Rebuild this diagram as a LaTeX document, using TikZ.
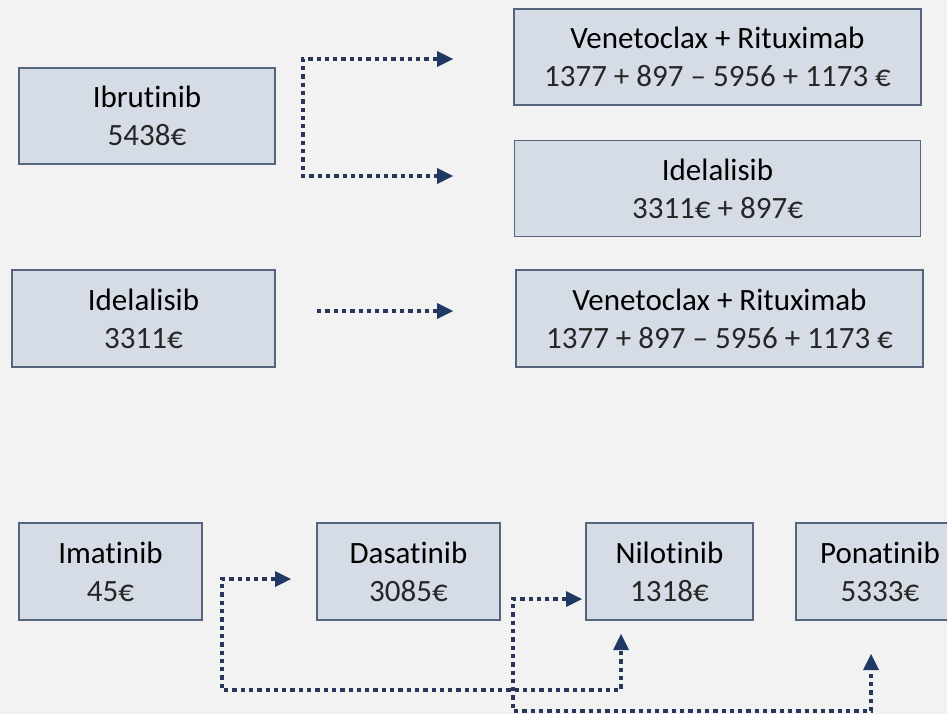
\documentclass[tikz,border=0pt]{standalone}
\usepackage{fontspec}
\setmainfont{Carlito}[RawFeature=-liga]
\usetikzlibrary{positioning}
\usetikzlibrary{arrows.meta}

\definecolor{pagegray}{HTML}{F2F2F2}
\definecolor{boxfill}{HTML}{D6DCE5}
\definecolor{boxline}{HTML}{56657D}
\definecolor{flowblue}{HTML}{283758}
\definecolor{tipblue}{HTML}{1F3864}
\definecolor{costgray}{HTML}{262626}
\newcommand{\drug}[2]{#1\\{\color{costgray}#2}}

\begin{document}
\begin{tikzpicture}[x=1pt,y=-1pt,
                >={Triangle[length=16pt,width=16pt,line width=0pt,color=tipblue]},
                drug node/.style={rectangle,draw=boxline,fill=boxfill,line width=1.5pt,
                  minimum height=96pt,inner sep=0pt,align=center,
                  font=\fontsize{31}{38}\selectfont},
                flow/.style={draw=flowblue,line width=4.5pt,dash pattern=on 4.3pt off 4pt}]

  \fill[pagegray] (0,0) rectangle (947,714);
  \useasboundingbox (0,0) rectangle (947,714);

  % CLL boxes
  \node[drug node,minimum width=256pt] (ibr) at (147,116) {\drug{Ibrutinib}{5438€}};
  \node[drug node,minimum width=407pt] (ven1) at (717.5,57)
    {\drug{Venetoclax + Rituximab}{1377 + 897 – 5956 + 1173 €}};
  \node[drug node,minimum width=406pt] (ide1) [below=34pt of ven1] {\drug{Idelalisib}{3311€ + 897€}};
  \node[drug node,minimum width=263pt,minimum height=97pt] (ide2) at (143.5,318.5)
    {\drug{Idelalisib}{3311€}};
  \node[drug node,minimum width=407pt,minimum height=97pt] (ven2) at (719.5,318.5)
    {\drug{Venetoclax + Rituximab}{1377 + 897 – 5956 + 1173 €}};

  % CML boxes
  \node[drug node,minimum width=183pt,minimum height=97pt] (ima) at (110.5,571.5)
    {\drug{Imatinib}{45€}};
  \node[drug node,minimum width=183pt,minimum height=97pt] (das) [right=113.5pt of ima]
    {\drug{Dasatinib}{3085€}};
  \node[drug node,minimum width=167pt,minimum height=97pt] (nil) [right=84.5pt of das]
    {\drug{Nilotinib}{1318€}};
  \node[drug node,minimum width=168pt,minimum height=97pt] (pon) [right=41.5pt of nil]
    {\drug{Ponatinib}{5333€}};

  % arrow ends
  \coordinate (ibrTop) at (303,59);
  \coordinate (ibrLow) at (303,176);
  \coordinate (toVen1) at (453,59);
  \coordinate (toIde1) at (453,176);
  \coordinate (ideOut) at (317,311);
  \coordinate (toVen2) at (453,311);
  \coordinate (toDas) at (291,579);
  \coordinate (imaLow) at (222,690);
  \coordinate (toNilUp) at (621,634);
  \coordinate (toNilL) at (582,599);
  \coordinate (dasLow) at (513,711);
  \coordinate (toPon) at (871,654);

  \draw[flow,<->] (toVen1) -- (ibrTop) -- (ibrLow) -- (toIde1);
  \draw[flow,->] (ideOut) -- (toVen2);
  \draw[flow,<->] (toDas) -| (imaLow) -| (toNilUp);
  \draw[flow,<->] (toNilL) -| (dasLow) -| (toPon);
\end{tikzpicture}
\end{document}
